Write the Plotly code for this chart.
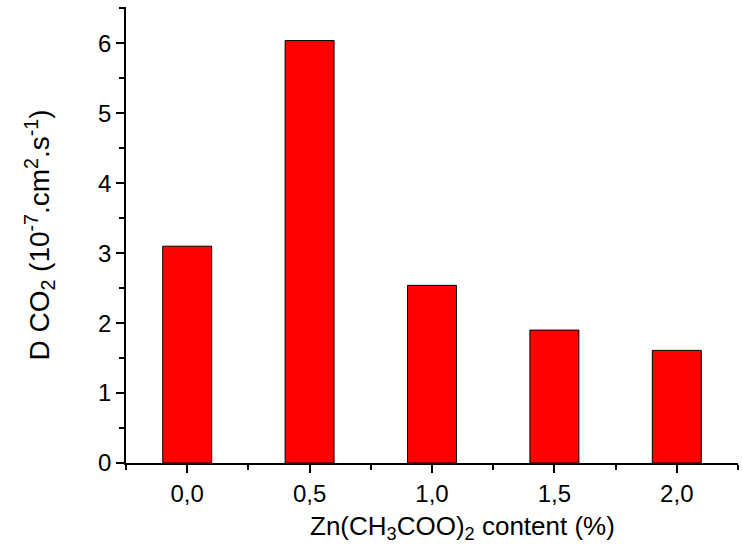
import plotly.graph_objects as go

content = [0.0, 0.5, 1.0, 1.5, 2.0]
d_co2 = [3.1, 6.04, 2.54, 1.9, 1.61]

fig = go.Figure()
fig.add_trace(go.Bar(x=content, y=d_co2, width=0.2,
                     marker=dict(color="#ff0000", line=dict(color="black", width=1))))

font = "Liberation Sans, Arial, sans-serif"
fig.update_layout(
    width=742, height=548,
    margin=dict(l=126, r=4, t=7, b=85),
    plot_bgcolor="white", paper_bgcolor="white",
    separators=",.",
    showlegend=False,
    font=dict(family=font, color="black", size=24),
)
fig.update_xaxes(
    range=[-0.25, 2.25], tick0=0, dtick=0.5, tickformat=".1f",
    showline=True, linecolor="black", linewidth=1.5, showgrid=False, zeroline=False,
    ticks="outside", ticklen=8, tickwidth=1.5, tickcolor="black",
    minor=dict(dtick=0.25, tick0=0, ticks="outside", ticklen=5, tickwidth=1.5, tickcolor="black"),
    tickfont=dict(size=24),
)
fig.update_yaxes(
    range=[0, 6.52], tick0=0, dtick=1,
    showline=True, linecolor="black", linewidth=1.5, showgrid=False, zeroline=False,
    ticks="outside", ticklen=8, tickwidth=1.5, tickcolor="black",
    minor=dict(dtick=0.5, tick0=0, ticks="outside", ticklen=5, tickwidth=1.5, tickcolor="black"),
    tickfont=dict(size=24),
    title=dict(text="D CO<sub>2</sub> (10<sup>-7</sup>.cm<sup>2</sup>.s<sup>-1</sup>)", font=dict(size=28), standoff=40),
)
# x title sits right of the axis centre in the original
fig.add_annotation(text="Zn(CH<sub>3</sub>COO)<sub>2</sub> content (%)",
                   xref="paper", yref="paper", x=0.55, y=0, yshift=-46,
                   xanchor="center", yanchor="top", showarrow=False,
                   font=dict(size=26))

fig.write_html("out.html", config={"displayModeBar": False},
               post_script="document.body.style.margin='0';")
